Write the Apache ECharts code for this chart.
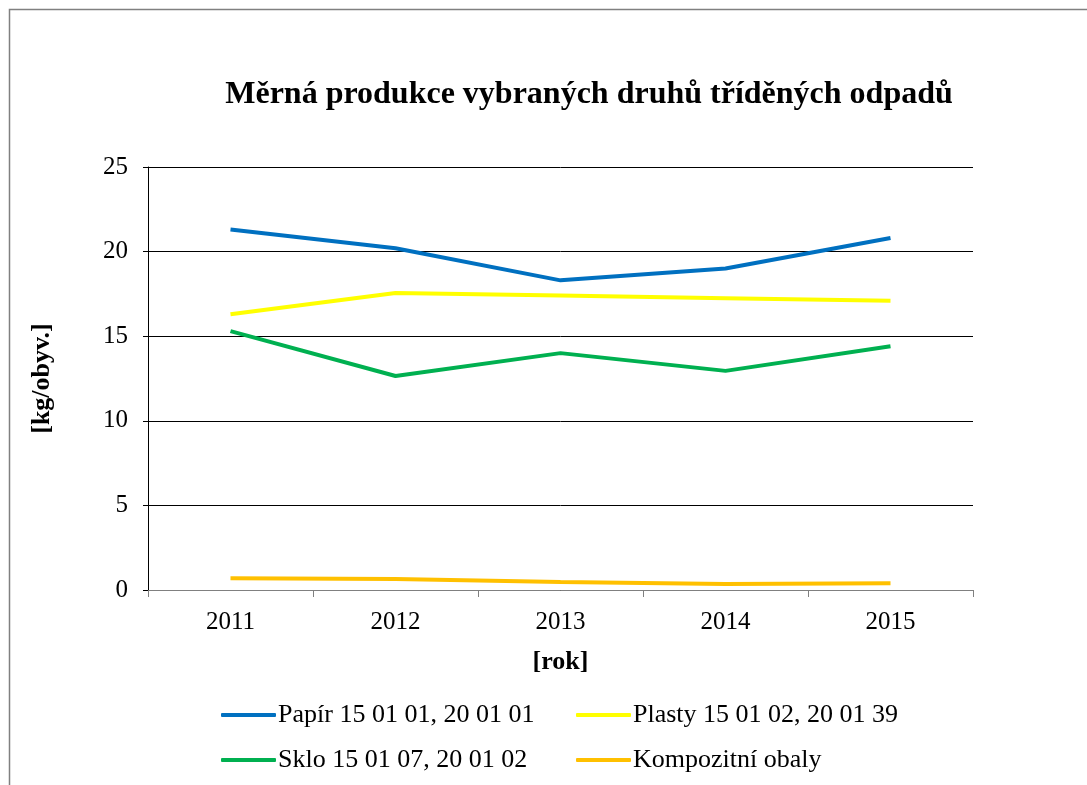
<!DOCTYPE html>
<html><head><meta charset="utf-8">
<script src="https://cdn.jsdelivr.net/npm/echarts@6/dist/echarts.min.js"></script>
<style>html,body{margin:0;padding:0;background:#fff}#c{width:1087px;height:785px}</style>
</head><body><div id="c"></div>
<script>
const years = ['2011','2012','2013','2014','2015'];
const papir = [21.3, 20.2, 18.3, 19.0, 20.8];
const plasty = [16.3, 17.55, 17.4, 17.25, 17.1];
const sklo = [15.3, 12.65, 14.0, 12.95, 14.4];
const kompozit = [0.7, 0.65, 0.47, 0.35, 0.4];
const names = ['Papír 15 01 01, 20 01 01','Plasty 15 01 02, 20 01 39','Sklo 15 01 07, 20 01 02','Kompozitní obaly'];
const colors = ['#0070C0','#FFFF00','#00B050','#FFC000'];
const values = [papir, plasty, sklo, kompozit];
const font = '"Liberation Serif","Times New Roman",serif';
const chart = echarts.init(document.getElementById('c'));
const legendPos = [[216,697],[571,697],[216,742],[571,742]];
chart.setOption({
  animation:false,
  backgroundColor:'#fff',
  graphic:[{type:'rect',shape:{x:9.5,y:9.5,width:1100,height:800},style:{fill:'none',stroke:'#808080',lineWidth:1.5},silent:true}],
  title:{text:'Měrná produkce vybraných druhů tříděných odpadů',left:584,top:74,textAlign:'center',
    textStyle:{fontFamily:font,fontSize:32,fontWeight:'bold',color:'#000'}},
  grid:{left:148,right:114,top:167,bottom:195},
  legend: names.map((n,i)=>({data:[n],left:legendPos[i][0],top:legendPos[i][1],itemWidth:55,itemHeight:4,itemGap:0,
    icon:'roundRect',textStyle:{fontFamily:font,fontSize:26,color:'#000',padding:[0,0,0,-3]}})),
  xAxis:{type:'category',data:years,boundaryGap:true,
    name:'[rok]',nameLocation:'middle',nameGap:59,
    nameTextStyle:{fontFamily:font,fontSize:26,fontWeight:'bold',color:'#000'},
    axisLine:{lineStyle:{color:'#808080',width:1}},
    axisTick:{show:true,length:7,lineStyle:{color:'#808080'}},
    axisLabel:{fontFamily:font,fontSize:25,color:'#000',margin:20}},
  yAxis:{type:'value',min:0,max:25,interval:5,
    name:'[kg/obyv.]',nameLocation:'middle',nameGap:93,nameRotate:90,
    nameTextStyle:{fontFamily:font,fontSize:26,fontWeight:'bold',color:'#000'},
    axisLine:{show:true,lineStyle:{color:'#000',width:1}},
    axisTick:{show:true,length:5,lineStyle:{color:'#000'}},
    splitLine:{lineStyle:{color:'#000',width:1}},
    axisLabel:{fontFamily:font,fontSize:25,color:'#000',margin:20}},
  series: names.map((n,i)=>({name:n,type:'line',data:values[i],symbol:'none',
    lineStyle:{color:colors[i],width:4},itemStyle:{color:colors[i]}}))
});
</script></body></html>
